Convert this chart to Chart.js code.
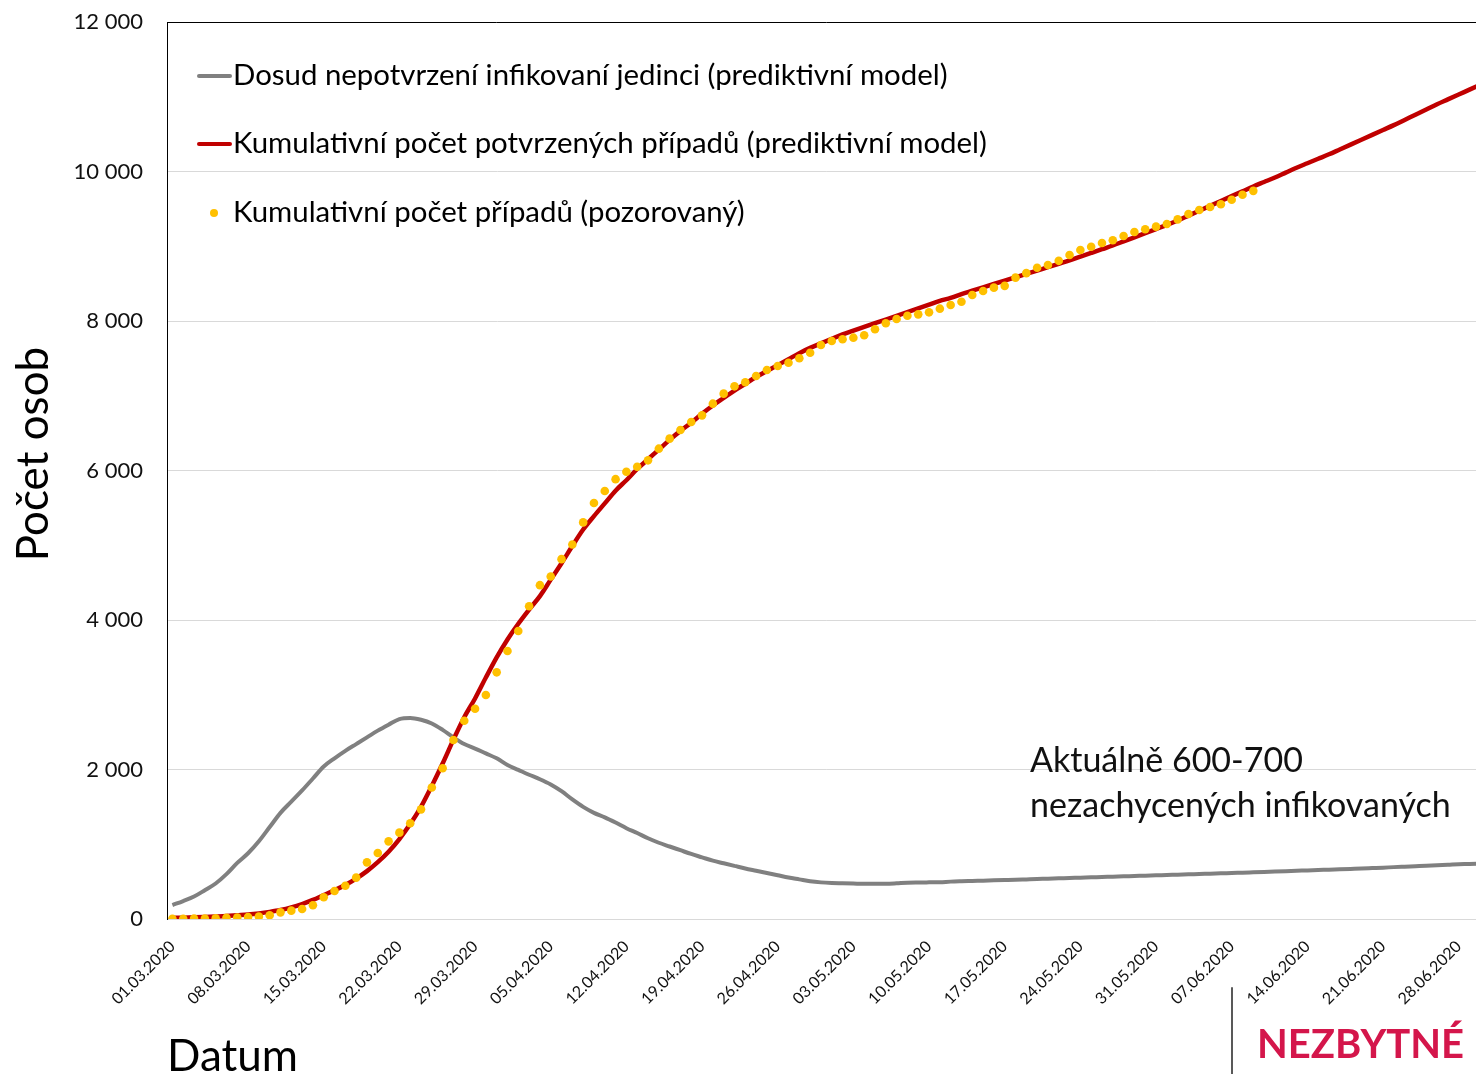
<!DOCTYPE html>
<html lang="cs">
<head>
<meta charset="utf-8">
<title>Počet osob</title>
<script src="https://cdn.jsdelivr.net/npm/chart.js@4.4.1/dist/chart.umd.min.js"></script>
<style>
  html, body { margin: 0; padding: 0; background: #fff; overflow: hidden; }
  #graf { display: block; }
</style>
</head>
<body>
<canvas id="graf" width="1490" height="1074"></canvas>
<script>
// dny od 01.03.2020 do 30.06.2020
const dny = [];
for (let i = 0; i < 122; i++) {
    const d = new Date(2020, 2, 1 + i);
    dny.push(String(d.getDate()).padStart(2, '0') + '.' + String(d.getMonth() + 1).padStart(2, '0') + '.2020');
}

const yTicks = [0, 2000, 4000, 6000, 8000, 10000, 12000];

// Dosud nepotvrzení infikovaní jedinci (model)
const nepotvrzeni = [
    187, 240, 300, 385, 475, 600, 750, 880, 1040, 1230,
    1420, 1570, 1720, 1880, 2040, 2150, 2250, 2340, 2430, 2520,
    2600, 2675, 2690, 2665, 2615, 2530, 2430, 2340, 2280, 2215,
    2150, 2060, 1995, 1930, 1870, 1800, 1710, 1600, 1500, 1420,
    1360, 1290, 1215, 1150, 1080, 1020, 970, 920, 870, 825,
    780, 745, 710, 675, 645, 615, 585, 555, 530, 505,
    490, 482, 478, 474, 470, 470, 472, 478, 485, 488,
    490, 492, 500, 505, 509, 513, 517, 521, 525, 530,
    535, 539, 544, 548, 553, 557, 562, 566, 571, 575,
    580, 584, 589, 593, 598, 602, 607, 611, 616, 620,
    625, 630, 635, 640, 645, 650, 655, 660, 665, 670,
    675, 681, 687, 694, 700, 706, 712, 719, 725, 732,
    736, 742
];

// Kumulativní počet potvrzených případů (model)
const potvrzeneModel = [
    15, 18, 22, 27, 33, 40, 50, 60, 75, 95,
    120, 155, 200, 255, 320, 385, 455, 540, 640, 760,
    900, 1070, 1270, 1500, 1780, 2080, 2400, 2700, 2950, 3230,
    3500, 3740, 3950, 4140, 4320, 4540, 4760, 4990, 5210, 5390,
    5560, 5730, 5870, 6020, 6150, 6280, 6410, 6530, 6640, 6760,
    6870, 6970, 7070, 7160, 7250, 7330, 7410, 7490, 7570, 7640,
    7700, 7760, 7820, 7870, 7920, 7970, 8020, 8070, 8120, 8170,
    8220, 8270, 8310, 8360, 8405, 8450, 8495, 8540, 8585, 8630,
    8675, 8720, 8765, 8810, 8860, 8910, 8960, 9010, 9065, 9120,
    9175, 9230, 9285, 9345, 9410, 9475, 9540, 9605, 9670, 9735,
    9800, 9860, 9920, 9985, 10050, 10110, 10170, 10230, 10295, 10360,
    10425, 10490, 10555, 10620, 10690, 10760, 10830, 10900, 10965, 11030,
    11095, 11160
];

// Kumulativní počet případů (pozorovaný)
const pozorovane = [
    3, 3, 5, 5, 8, 15, 20, 26, 32, 50,
    89, 112, 134, 183, 290, 375, 445, 553, 758, 883,
    1039, 1155, 1280, 1467, 1760, 2016, 2395, 2653, 2812, 2997,
    3300, 3585, 3853, 4183, 4466, 4582, 4814, 5010, 5306, 5565,
    5726, 5884, 5984, 6051, 6136, 6292, 6426, 6542, 6649, 6738,
    6894, 7028, 7126, 7180, 7264, 7344, 7398, 7442, 7501, 7576,
    7679, 7732, 7755, 7777, 7809, 7889, 7969, 8027, 8071, 8089,
    8116, 8165, 8214, 8258, 8348, 8401, 8446, 8470, 8580, 8640,
    8713, 8749, 8805, 8883, 8950, 8994, 9043, 9080, 9137, 9191,
    9227, 9262, 9298, 9360, 9431, 9485, 9525, 9561, 9623, 9688,
    9741
];

const pismo = 'Lato';

function mezery(v) {
    return String(v).replace(/\B(?=(\d{3})+(?!\d))/g, ' ');
}

// legenda, ramecek nahore, nazev osy y a popisky
const popisky = {
    id: 'popisky',
    afterDraw(chart) {
        const ctx = chart.ctx;
        const a = chart.chartArea;
        ctx.save();

        ctx.strokeStyle = '#000';
        ctx.lineWidth = 1;
        ctx.beginPath();
        ctx.moveTo(a.left, a.top + 0.5);
        ctx.lineTo(a.right, a.top + 0.5);
        ctx.stroke();

        // nazev osy y
        ctx.save();
        ctx.translate(34, 454);
        ctx.rotate(-Math.PI / 2);
        ctx.font = '44px ' + pismo;
        ctx.fillStyle = '#000';
        ctx.textAlign = 'center';
        ctx.textBaseline = 'middle';
        ctx.fillText('Počet osob', 0, 0);
        ctx.restore();

        // legenda
        const ds = chart.data.datasets;
        const radky = [
            { ds: ds[2], y: 76, line: true },
            { ds: ds[1], y: 144, line: true },
            { ds: ds[0], y: 213, line: false }
        ];
        ctx.font = '29.4px ' + pismo;
        ctx.textBaseline = 'middle';
        ctx.textAlign = 'left';
        radky.forEach(r => {
            if (r.line) {
                ctx.strokeStyle = r.ds.borderColor;
                ctx.lineWidth = 4;
                ctx.lineCap = 'round';
                ctx.beginPath();
                ctx.moveTo(199, r.y);
                ctx.lineTo(230, r.y);
                ctx.stroke();
            } else {
                ctx.fillStyle = r.ds.backgroundColor;
                ctx.beginPath();
                ctx.arc(214, r.y, 4, 0, Math.PI * 2);
                ctx.fill();
            }
            ctx.fillStyle = '#000';
            ctx.fillText(r.ds.label, 233, r.y);
        });

        // poznamka
        ctx.font = '34px ' + pismo;
        ctx.fillStyle = '#111';
        ctx.textBaseline = 'alphabetic';
        ctx.fillText('Aktuálně 600-700', 1030, 772);
        ctx.fillText('nezachycených infikovaných', 1030, 817);

        // cast zapati
        ctx.strokeStyle = '#595959';
        ctx.lineWidth = 2;
        ctx.beginPath();
        ctx.moveTo(1232, 988);
        ctx.lineTo(1232, 1074);
        ctx.stroke();
        ctx.font = 'bold 40px ' + pismo;
        ctx.fillStyle = '#d4164b';
        ctx.fillText('NEZBYTNÉ', 1257, 1058);

        ctx.restore();
    }
};

const ctx = document.getElementById('graf').getContext('2d');
new Chart(ctx, {
    type: 'line',
    data: {
        labels: dny,
        datasets: [{
            label: 'Kumulativní počet případů (pozorovaný)',
            data: pozorovane,
            showLine: false,
            pointRadius: 4.3,
            pointBorderWidth: 0,
            backgroundColor: '#ffc000',
            borderColor: '#ffc000'
        }, {
            label: 'Kumulativní počet potvrzených případů (prediktivní model)',
            data: potvrzeneModel,
            borderColor: '#c00000',
            borderWidth: 4.5,
            pointRadius: 0,
            tension: 0.4,
            cubicInterpolationMode: 'monotone'
        }, {
            label: 'Dosud nepotvrzení infikovaní jedinci (prediktivní model)',
            data: nepotvrzeni,
            borderColor: '#808080',
            borderWidth: 4,
            pointRadius: 0,
            tension: 0.4,
            cubicInterpolationMode: 'monotone'
        }]
    },
    options: {
        responsive: false,
        animation: false,
        layout: { padding: { top: 22, left: 0, right: 0, bottom: 0 } },
        plugins: {
            legend: { display: false },
            tooltip: { enabled: false }
        },
        scales: {
            x: {
                offset: true,
                grid: { display: false, drawTicks: false },
                border: { color: '#d9d9d9', width: 1 },
                ticks: {
                    autoSkip: false,
                    minRotation: 45,
                    maxRotation: 45,
                    padding: 18,
                    color: '#111',
                    font: { family: pismo, size: 16 },
                    callback: function(v, i) {
                        return i % 7 === 0 ? dny[i] : '';
                    }
                },
                title: {
                    display: true,
                    text: 'Datum',
                    align: 'start',
                    color: '#000',
                    font: { family: pismo, size: 44, lineHeight: 0.8 },
                    padding: { top: 0, bottom: 0 }
                },
                afterFit: function(s) {
                    s.height = 155;
                    s.paddingLeft = 0;
                    s.paddingRight = 0;
                }
            },
            y: {
                min: 0,
                max: 12000,
                afterBuildTicks: function(s) {
                    s.ticks = yTicks.map(v => ({ value: v }));
                },
                grid: { color: '#d9d9d9', lineWidth: 1, drawTicks: false },
                border: { color: '#000', width: 1 },
                ticks: {
                    padding: 24,
                    color: '#111',
                    font: { family: pismo, size: 22 },
                    callback: v => mezery(v)
                },
                afterFit: function(s) {
                    s.width = 167;
                    s.paddingTop = 0;
                    s.paddingBottom = 0;
                }
            }
        }
    },
    plugins: [popisky]
});
</script>
</body>
</html>
